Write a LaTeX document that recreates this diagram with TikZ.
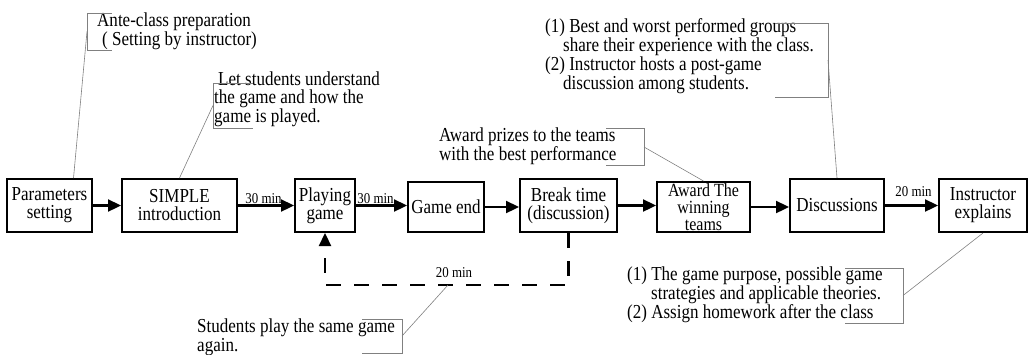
\documentclass[tikz,border=0pt]{standalone}
\usepackage{fontspec}
\setmainfont[FakeStretch=0.86]{Liberation Serif}
\usetikzlibrary{arrows.meta,calc}
\begin{document}
\begin{tikzpicture}[x=1pt,y=-1pt,
  box/.style={draw,line width=2pt,inner sep=0pt,align=center,font=\fontsize{19.8}{18}\selectfont},
  flow/.style={line width=2.3pt,-{Triangle[length=13pt,width=12pt]}},
  loopline/.style={line width=2.3pt,dash pattern=on 15pt off 13pt,-{Triangle[length=13pt,width=12pt]}},
  note/.style={inner sep=0pt,anchor=west,align=left},
  lead/.style={draw=black!50,line width=0.6pt},
  lbl/.style={font=\fontsize{15}{15}\selectfont,inner sep=0pt,anchor=base}
]
\useasboundingbox (0,0) rectangle (1028,354);

% process boxes
\node[box,minimum width=85pt,minimum height=53pt] (par) at (49.5,205.5) {Parameters\\setting};
\node[box,minimum width=115pt,minimum height=53pt] (simple) at (179.5,205.5) {SIMPLE\\introduction};
\node[box,minimum width=60pt,minimum height=53pt] (play) at (325,205.5) {Playing\\game};
\node[box,minimum width=76pt,minimum height=50pt] (gend) at (446,207) {Game end};
\node[box,minimum width=97pt,minimum height=53pt] (brk) at (568.5,205.5) {Break time\\(discussion)};
\node[box,minimum width=93pt,minimum height=50pt,font=\fontsize{18.6}{16.8}\selectfont] (award) at (703.5,207) {Award The\\winning\\teams};
\node[box,minimum width=94pt,minimum height=53pt] (disc) at (837,205.5) {Discussions};
\node[box,minimum width=88pt,minimum height=53pt] (instr) at (983,205.5) {Instructor\\explains};

% flow arrows
\draw[flow] (par.east) -- (par.east -| simple.west);
\draw[flow] (simple.east) -- (simple.east -| play.west);
\draw[flow] (play.east) -- (play.east -| gend.west);
\draw[flow] (gend.east) -- (gend.east -| brk.west);
\draw[flow] (brk.east) -- (brk.east -| award.west);
\draw[flow] (award.east) -- (award.east -| disc.west);
\draw[flow] (disc.east) -- (disc.east -| instr.west);

% loop back
\coordinate (lp) at (448,285);
\draw[loopline] (brk.south) -- (brk.south |- lp) -- (play.south |- lp) -- (play.south);

% time labels
\node[lbl] (t1) at (263.5,203) {30 min};
\node[lbl] (t2) at (375.5,203) {30 min};
\node[lbl] (t3) at (913.5,196) {20 min};
\node[lbl] (t4) at (454,277) {20 min};

% callout 1
\node[note,font=\fontsize{19.8}{16.8}\selectfont] (n1) at (97,31) {Ante-class preparation\\\hspace*{5pt}( Setting by instructor)};
\draw[lead] (112,13) -- (87,13) -- (87,50) -- (112,50);
\coordinate (b1) at (87,31.5);
\draw[lead] (b1) -- ($(par.north west)!0.776!(par.north east)$);

% callout 2
\node[note,font=\fontsize{19.8}{18}\selectfont] (n2) at (214,99) {\hspace*{4pt}Let students understand\\the game and how the\\game is played.};
\draw[lead] (253,83) -- (213,83) -- (213,128) -- (253,128);
\coordinate (b2) at (213,105.5);
\draw[lead] (b2) -- (simple.north);

% callout 3
\node[note,font=\fontsize{19.8}{16}\selectfont] (n3) at (545,56) {(1) Best and worst performed groups\\\hspace*{18pt}share their experience with the class.\\(2) Instructor hosts a post-game\\\hspace*{18pt}discussion among students.};
\draw[lead] (775,23) -- (828,23) -- (828,97) -- (775,97);
\coordinate (b3) at (828,60);
\draw[lead] (b3) -- (disc.north);

% callout 4
\node[note,font=\fontsize{19.8}{17.5}\selectfont] (n4) at (439,146.5) {Award prizes to the teams\\with the best performance};
\draw[lead] (606,128) -- (644,128) -- (644,165) -- (606,165);
\coordinate (b4) at (644,147);
\draw[lead] (b4) -- (award.north);

% callout 5
\node[note,font=\fontsize{19.8}{18}\selectfont] (n5) at (627,295) {(1) The game purpose, possible game\\\hspace*{24pt}strategies and applicable theories.\\(2) Assign homework after the class};
\draw[lead] (845,268) -- (903,268) -- (903,323) -- (845,323);
\coordinate (b5) at (903,295.5);
\draw[lead] (b5) -- (instr.south);

% callout 6
\node[note,font=\fontsize{19.8}{19}\selectfont] (n6) at (197,337.5) {Students play the same game\\again.};
\draw[lead] (362,319) -- (402,319) -- (402,353) -- (362,353);
\coordinate (b6) at (402,336);
\draw[lead] (b6) -- (lp);

\end{tikzpicture}
\end{document}
